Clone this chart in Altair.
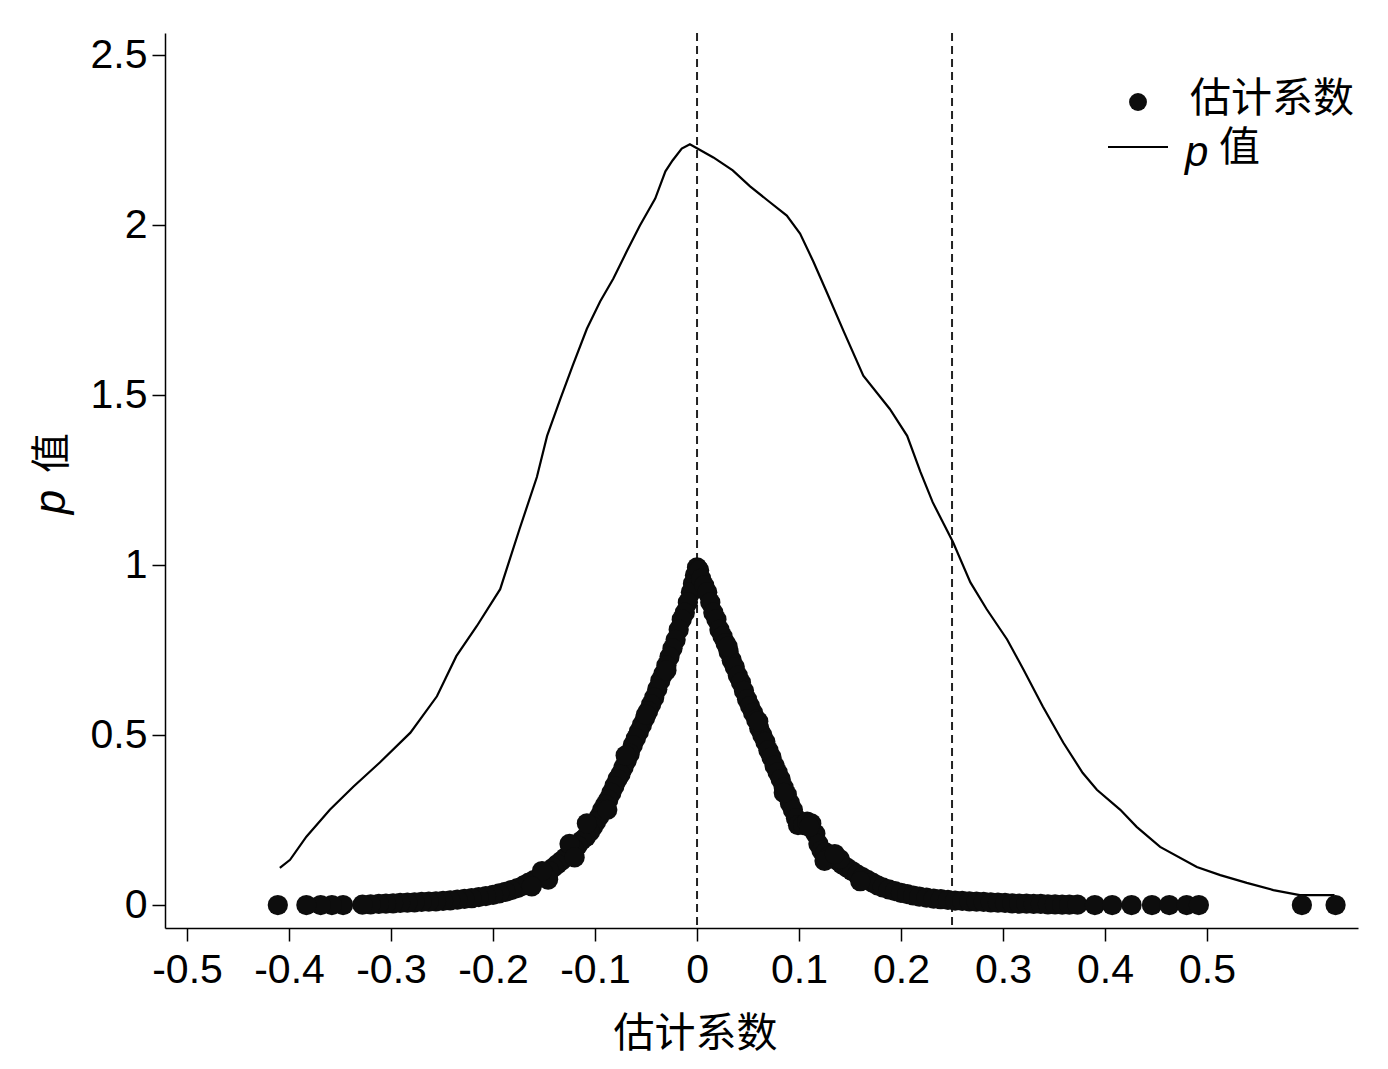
import altair as alt
import pandas as pd

# ---------------- data ----------------
x_ticks = [-0.5, -0.4, -0.3, -0.2, -0.1, 0.0, 0.1, 0.2, 0.3, 0.4, 0.5]
y_ticks = [0.0, 0.5, 1.0, 1.5, 2.0, 2.5]
ref_lines = [0.0, 0.25]

# p-value density curve
curve_x = [-0.409, -0.399, -0.383, -0.360, -0.337, -0.311, -0.281, -0.255, -0.236, -0.216,
           -0.193, -0.174, -0.157, -0.147, -0.134, -0.122, -0.108, -0.095, -0.082, -0.069,
           -0.056, -0.041, -0.031, -0.024, -0.015, -0.007, 0.016, 0.035, 0.052, 0.069,
           0.088, 0.101, 0.114, 0.127, 0.144, 0.163, 0.189, 0.206, 0.219, 0.231,
           0.251, 0.268, 0.284, 0.304, 0.320, 0.339, 0.359, 0.378, 0.392, 0.415,
           0.431, 0.454, 0.490, 0.513, 0.539, 0.565, 0.591, 0.625]
curve_y = [0.109, 0.133, 0.201, 0.280, 0.348, 0.419, 0.507, 0.614, 0.732, 0.820,
           0.929, 1.106, 1.259, 1.380, 1.489, 1.586, 1.695, 1.775, 1.843, 1.922,
           1.999, 2.078, 2.158, 2.190, 2.225, 2.238, 2.199, 2.161, 2.114, 2.073,
           2.028, 1.975, 1.893, 1.804, 1.686, 1.557, 1.459, 1.380, 1.274, 1.185,
           1.067, 0.949, 0.870, 0.781, 0.693, 0.584, 0.478, 0.389, 0.339, 0.280,
           0.230, 0.171, 0.112, 0.088, 0.065, 0.044, 0.029, 0.029]

# estimated coefficients (points): left branch
left_x = [0.000, -0.002, -0.004, -0.006, -0.009, -0.012, -0.015, -0.018, -0.021, -0.024,
          -0.027, -0.030, -0.033, -0.036, -0.039, -0.042, -0.045, -0.048, -0.051, -0.054,
          -0.057, -0.060, -0.063, -0.066, -0.069, -0.072, -0.075, -0.078, -0.081, -0.084,
          -0.087, -0.090, -0.093, -0.096, -0.099, -0.102, -0.105, -0.109, -0.113, -0.117,
          -0.121, -0.125, -0.129, -0.133, -0.137, -0.141, -0.145, -0.150, -0.155, -0.160,
          -0.165, -0.170, -0.176, -0.182, -0.188, -0.194, -0.200, -0.207, -0.214, -0.221,
          -0.228, -0.235, -0.242, -0.249, -0.256, -0.263, -0.270, -0.277, -0.284, -0.291,
          -0.298, -0.305, -0.312, -0.320, -0.328, -0.347, -0.358, -0.369, -0.383, -0.411]
left_y = [0.993, 0.970, 0.945, 0.920, 0.890, 0.860, 0.840, 0.810, 0.780, 0.755,
          0.730, 0.705, 0.680, 0.660, 0.635, 0.610, 0.590, 0.570, 0.550, 0.530,
          0.510, 0.490, 0.470, 0.445, 0.425, 0.405, 0.385, 0.370, 0.350, 0.330,
          0.310, 0.295, 0.280, 0.260, 0.245, 0.230, 0.215, 0.200, 0.190, 0.175,
          0.165, 0.150, 0.140, 0.130, 0.120, 0.110, 0.100, 0.090, 0.080, 0.073,
          0.066, 0.058, 0.050, 0.044, 0.039, 0.034, 0.030, 0.026, 0.023, 0.020,
          0.018, 0.016, 0.014, 0.012, 0.011, 0.010, 0.009, 0.008, 0.007, 0.006,
          0.005, 0.004, 0.003, 0.002, 0.001, 0.000, 0.000, 0.000, 0.000, 0.000]

# estimated coefficients (points): right branch
right_x = [0.002, 0.004, 0.007, 0.010, 0.013, 0.016, 0.019, 0.022, 0.025, 0.028,
           0.031, 0.034, 0.037, 0.040, 0.043, 0.046, 0.049, 0.052, 0.055, 0.058,
           0.061, 0.064, 0.067, 0.070, 0.073, 0.076, 0.079, 0.082, 0.085, 0.088,
           0.091, 0.094, 0.097, 0.099, 0.104, 0.108, 0.112, 0.116, 0.119, 0.122,
           0.126, 0.130, 0.134, 0.138, 0.142, 0.147, 0.152, 0.157, 0.162, 0.167,
           0.172, 0.177, 0.182, 0.188, 0.194, 0.200, 0.206, 0.212, 0.218, 0.225,
           0.232, 0.239, 0.246, 0.253, 0.260, 0.267, 0.274, 0.281, 0.288, 0.295,
           0.302, 0.309, 0.316, 0.323, 0.330, 0.337, 0.344, 0.351, 0.358, 0.365,
           0.373, 0.390, 0.407, 0.426, 0.446, 0.463, 0.480, 0.492, 0.593, 0.626]
right_y = [0.985, 0.960, 0.940, 0.920, 0.890, 0.860, 0.840, 0.810, 0.790, 0.770,
           0.745, 0.720, 0.700, 0.675, 0.655, 0.630, 0.605, 0.585, 0.565, 0.545,
           0.520, 0.500, 0.480, 0.455, 0.435, 0.410, 0.390, 0.370, 0.345, 0.325,
           0.300, 0.280, 0.255, 0.235, 0.235, 0.245, 0.240, 0.210, 0.180, 0.160,
           0.155, 0.145, 0.140, 0.130, 0.120, 0.110, 0.100, 0.090, 0.082, 0.074,
           0.066, 0.058, 0.052, 0.046, 0.041, 0.036, 0.032, 0.028, 0.025, 0.022,
           0.019, 0.017, 0.015, 0.013, 0.012, 0.011, 0.010, 0.009, 0.008, 0.007,
           0.006, 0.005, 0.004, 0.004, 0.003, 0.003, 0.002, 0.002, 0.001, 0.001,
           0.001, 0.000, 0.000, 0.000, 0.000, 0.000, 0.000, 0.000, 0.000, 0.000]

# a few scattered points that thicken the band
extra_x = [-0.146, -0.152, -0.125, -0.108, -0.088, -0.162, -0.120, -0.070,
           -0.050, -0.030, 0.030, 0.060,
           0.110, 0.125, 0.140, 0.160, 0.135, 0.085]
extra_y = [0.075, 0.100, 0.180, 0.240, 0.280, 0.055, 0.140, 0.440,
           0.560, 0.690, 0.760, 0.540,
           0.230, 0.130, 0.135, 0.070, 0.150, 0.330]

legend_labels = ["估计系数", "值"]

# ---------------- tables ----------------
curve_df = pd.DataFrame({"x": curve_x, "y": curve_y})
pts_df = pd.DataFrame({"x": left_x + right_x + extra_x, "y": left_y + right_y + extra_y})
ref_df = pd.DataFrame({"x": ref_lines})
one = pd.DataFrame({"k": [0]})

W, H = 1193, 895
NUM_FONT = "Liberation Sans"
CJK_FONT = "Noto Sans CJK SC"

label_expr = "datum.value == 0 ? '0' : toString(round(datum.value * 10) / 10)"

x_scale = alt.Scale(domain=[-0.5216, 0.648], nice=False, zero=False)
y_scale = alt.Scale(domain=[-0.0676, 2.565], nice=False, zero=False)

x_axis = alt.Axis(values=x_ticks, labelExpr=label_expr, title="估计系数",
                  titleFont=CJK_FONT, titleFontSize=41, titleFontWeight="normal",
                  titleColor="black", titlePadding=24, labelPadding=9,
                  titleX=530, titleAnchor="middle", titleAlign="center")
y_axis = alt.Axis(values=y_ticks, labelExpr=label_expr, title=None, labelPadding=5)

ref = alt.Chart(ref_df).mark_rule(color="#222222", strokeWidth=2, strokeDash=[8, 5]).encode(
    x=alt.X("x:Q", scale=x_scale, axis=x_axis)
)

line = alt.Chart(curve_df).mark_line(color="black", strokeWidth=2.2).encode(
    x=alt.X("x:Q", scale=x_scale, axis=x_axis),
    y=alt.Y("y:Q", scale=y_scale, axis=y_axis),
)

pts = alt.Chart(pts_df).mark_circle(color="#0d0d0d", opacity=1, size=410).encode(
    x=alt.X("x:Q", scale=x_scale, axis=x_axis),
    y=alt.Y("y:Q", scale=y_scale, axis=y_axis),
)

# y title: italic p + 值, rotated
ytitle_p = alt.Chart(one).mark_text(font=NUM_FONT, fontStyle="italic", fontSize=44,
                                    angle=270, align="center", baseline="middle",
                                    color="black").encode(
    x=alt.value(-113), y=alt.value(469), text=alt.value("p"))
ytitle_c = alt.Chart(one).mark_text(font=CJK_FONT, fontSize=40, angle=270,
                                    align="center", baseline="middle",
                                    color="black").encode(
    x=alt.value(-112), y=alt.value(420), text=alt.value(legend_labels[1]))

# custom legend
leg_dot = alt.Chart(one).mark_circle(color="#0d0d0d", opacity=1, size=320).encode(
    x=alt.value(973), y=alt.value(69))
leg_txt1 = alt.Chart(one).mark_text(font=CJK_FONT, fontSize=41, align="left",
                                    baseline="middle", color="black").encode(
    x=alt.value(1025), y=alt.value(67), text=alt.value(legend_labels[0]))
leg_line = alt.Chart(one).mark_rule(color="black", strokeWidth=2).encode(
    x=alt.value(943), x2=alt.value(1003), y=alt.value(114))
leg_p = alt.Chart(one).mark_text(font=NUM_FONT, fontStyle="italic", fontSize=42,
                                 align="left", baseline="middle", color="black").encode(
    x=alt.value(1020), y=alt.value(120), text=alt.value("p"))
leg_txt2 = alt.Chart(one).mark_text(font=CJK_FONT, fontSize=41, align="left",
                                    baseline="middle", color="black").encode(
    x=alt.value(1054), y=alt.value(116), text=alt.value(legend_labels[1]))

chart = alt.layer(ref, line, pts, ytitle_p, ytitle_c,
                  leg_dot, leg_txt1, leg_line, leg_p, leg_txt2).properties(
    width=W, height=H,
    autosize=alt.AutoSizeParams(type="none"),
    padding={"left": 157, "top": 25, "right": 20, "bottom": 130},
    background="white",
).configure_view(stroke=None).configure_axis(
    grid=False, domainColor="black", domainWidth=1.5, tickColor="black",
    tickWidth=1.5, tickSize=13, labelFont=NUM_FONT, labelFontSize=41,
    labelColor="black",
)

chart.save("out.html", embed_options={"renderer": "svg", "actions": False})
